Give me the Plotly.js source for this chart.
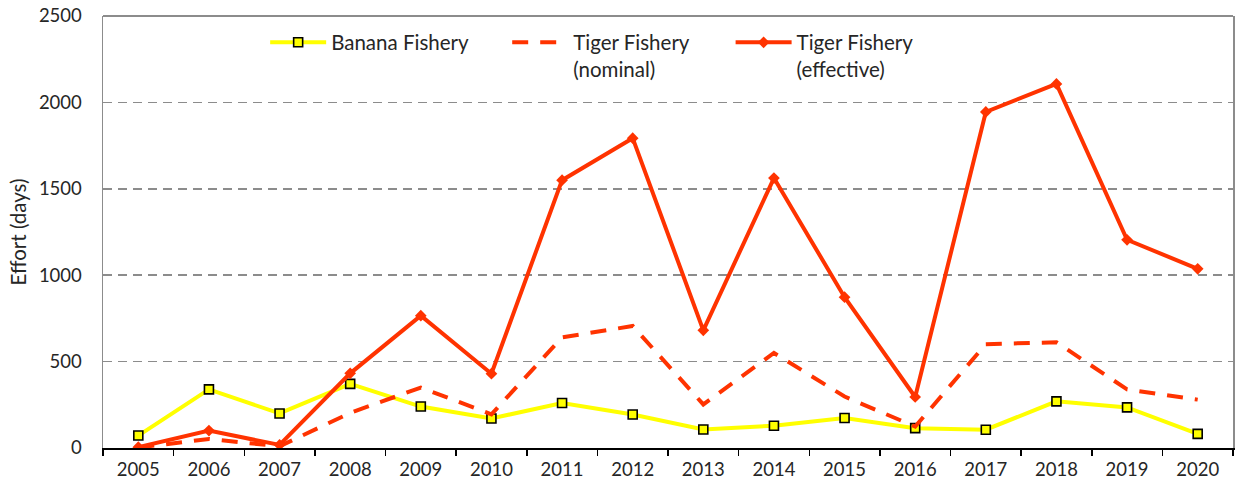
<!DOCTYPE html>
<html>
<head>
<meta charset="utf-8">
<script src="https://cdn.plot.ly/plotly-3.0.1.min.js"></script>
<style>html,body{margin:0;padding:0;background:#fff;}#chart{width:1235px;height:489px;}</style>
</head>
<body>
<div id="chart"></div>
<script>
const years = ["2005","2006","2007","2008","2009","2010","2011","2012","2013","2014","2015","2016","2017","2018","2019","2020"];
const banana = [72, 339, 200, 371, 240, 171, 260, 194, 107, 129, 174, 115, 106, 270, 235, 82];
const tigerNominal = [3, 52, 10, 203, 350, 195, 640, 706, 252, 550, 298, 124, 601, 612, 339, 280];
const tigerEffective = [5, 101, 18, 432, 766, 430, 1550, 1793, 681, 1562, 873, 295, 1945, 2107, 1205, 1037];
const yTicks = [0, 500, 1000, 1500, 2000, 2500];

const RED = "#FF3300";
const FONT = "Lato, 'Open Sans', sans-serif";
const TXT = "#262626";

const traces = [
  {x: years, y: banana, name: "Banana Fishery", type: "scatter", mode: "lines+markers",
   line: {color: "#FFFF00", width: 4},
   marker: {symbol: "square", size: 9, color: "#FFFF00", line: {color: "#000000", width: 1.6}},
   legend: "legend"},
  {x: years, y: tigerNominal, name: "Tiger Fishery<br>(nominal)", type: "scatter", mode: "lines",
   line: {color: RED, width: 4, dash: "16px,12px"},
   legend: "legend2"},
  {x: years, y: tigerEffective, name: "Tiger Fishery<br>(effective)", type: "scatter", mode: "lines+markers",
   line: {color: RED, width: 4},
   marker: {symbol: "diamond", size: 9, color: RED},
   legend: "legend3"}
];

const legendBase = {orientation: "v", xanchor: "left", yanchor: "top", y: 0.985,
  bgcolor: "rgba(0,0,0,0)", font: {family: FONT, size: 20.5, color: TXT},
  valign: "top", itemwidth: 56, tracegroupgap: 0};

const layout = {
  width: 1235, height: 489,
  margin: {l: 103, r: 2, t: 16, b: 41},
  paper_bgcolor: "#ffffff", plot_bgcolor: "#ffffff",
  font: {family: FONT, size: 18, color: TXT},
  showlegend: true,
  legend: Object.assign({}, legendBase, {x: 0.1435}),
  legend2: Object.assign({}, legendBase, {x: 0.3577}),
  legend3: Object.assign({}, legendBase, {x: 0.5554}),
  xaxis: {
    type: "category", tickson: "boundaries", ticks: "outside", ticklen: 6, tickwidth: 1.5,
    tickcolor: "#000", showline: true, linecolor: "#000", linewidth: 1.5,
    showgrid: false, zeroline: false, range: [-0.5, 15.5], ticklabelstandoff: 4,
    tickfont: {family: FONT, size: 18.5, color: TXT}
  },
  yaxis: {
    range: [0, 2500], tickmode: "array", tickvals: yTicks, ticktext: yTicks.map(String),
    showline: true, linecolor: "#8c8c8c", linewidth: 1.5, mirror: true,
    showgrid: true, gridcolor: "#8c8c8c", gridwidth: 1.5, griddash: "9px,6px",
    zeroline: false, ticks: "", ticklabelstandoff: 16,
    tickfont: {family: FONT, size: 18.5, color: TXT},
    title: {text: "Effort (days)", font: {family: FONT, size: 20.5, color: TXT}, standoff: 6}
  },
  shapes: [
    {type: "line", xref: "paper", yref: "paper", x0: 0, x1: 1, y0: 1, y1: 1,
     line: {color: "#8c8c8c", width: 2}}
  ]
};

Plotly.newPlot("chart", traces, layout, {displayModeBar: false, staticPlot: true});
</script>
</body>
</html>
